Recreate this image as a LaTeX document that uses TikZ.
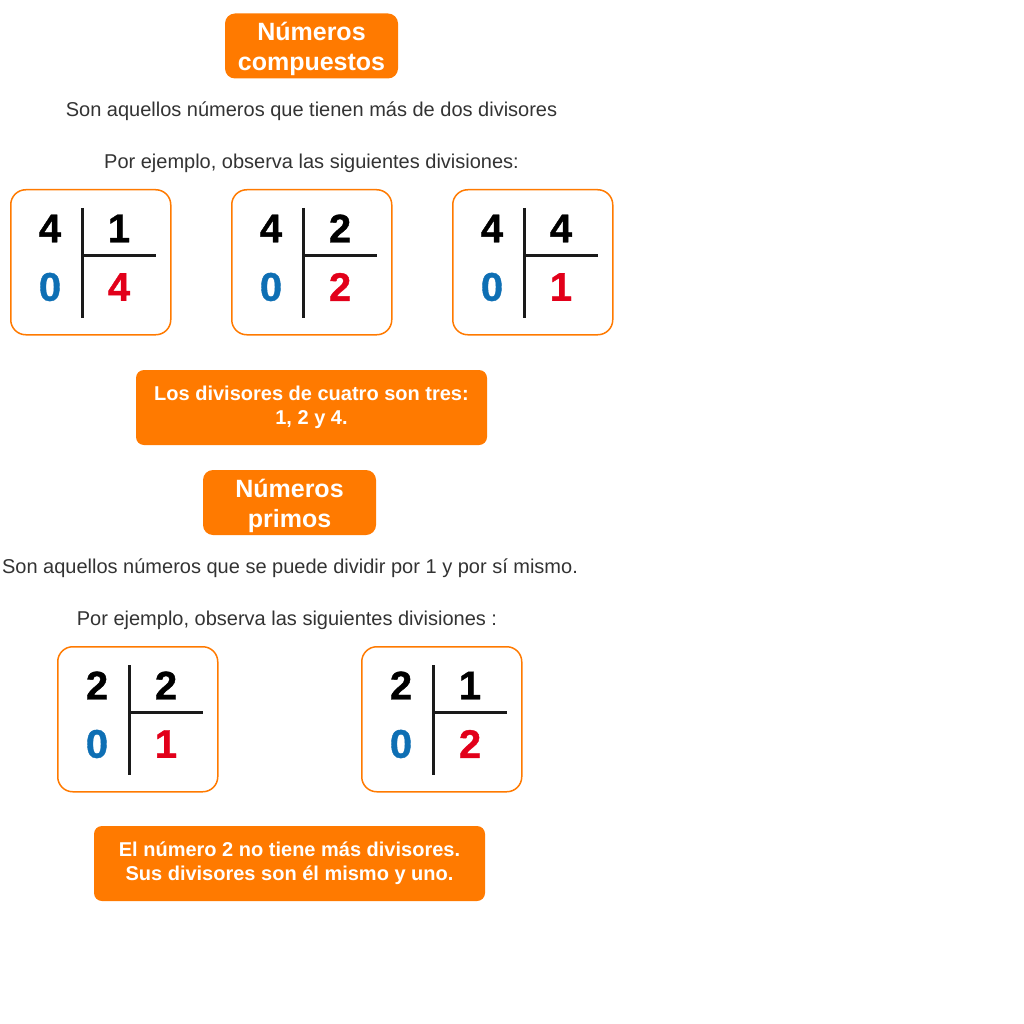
\documentclass[tikz,border=0pt]{standalone}
\usepackage{fontspec}
\setmainfont{Liberation Sans}
\newfontfamily\cifrafont[FakeBold=1]{Liberation Sans Bold}
\usetikzlibrary{
	calc
}
\definecolor{naranja}{HTML}{FF7A00}
\definecolor{gristexto}{HTML}{333333}
\definecolor{azul}{HTML}{0E6FB4}
\definecolor{rojo}{HTML}{E2001A}
\definecolor{raya}{HTML}{1A1A1A}

\begin{document}
\begin{tikzpicture}[
	x=1pt, y=-1pt,
	titulo/.style={fill=naranja, rounded corners=10pt, minimum width=173pt, minimum height=65pt, inner sep=0},
	rotulo/.style={text=white, align=center, font=\bfseries\fontsize{25}{30}\selectfont, inner sep=0},
	nota/.style={fill=naranja, rounded corners=8pt, text=white, align=center,
		font=\bfseries\fontsize{20}{24}\selectfont, minimum height=75pt, inner sep=0},
	texto/.style={text=gristexto, font=\fontsize{20}{24}\selectfont, inner sep=0, anchor=base},
	division/.style={draw=naranja, line width=1.5pt, rounded corners=15pt,
		minimum width=160pt, minimum height=145pt, inner sep=0, anchor=north west},
	cifra/.style={font=\cifrafont\fontsize{40}{40}\selectfont, inner sep=0},
	linea/.style={draw=raya, line width=3pt}
]
	\useasboundingbox[fill=white] (0,0) rectangle (1024,1024);

	% compuestos
	\node(compuestos)[titulo] at (311.5,46) {};
	\node(compuestos-texto)[rotulo] at (311.5,49) {Números\\compuestos};
	\node(defcomp)[texto] at (311.5,117) {Son aquellos números que tienen más de dos divisores};
	\node(ejcomp)[texto] at (311.5,169) {Por ejemplo, observa las siguientes divisiones:};
	\node(notacomp)[nota, minimum width=351pt] at (311.5,407.5) {Los divisores de cuatro son tres:\\1, 2 y 4.};

	% primos
	\node(primos)[titulo] at (289.5,502.5) {};
	\node(primos-texto)[rotulo] at (289.5,506) {Números\\primos};
	\node(defprim)[texto] at (290,573) {Son aquellos números que se puede dividir por 1 y por sí mismo.};
	\node(ejprim)[texto] at (287,625) {Por ejemplo, observa las siguientes divisiones :};
	\node(notaprim)[nota, minimum width=391pt] at (289.5,863.5) {El número 2 no tiene más divisores.\\Sus divisores son él mismo y uno.};

	% divisiones: dividendo, divisor, resto, cociente
	\foreach \n/\x/\y/\a/\b/\q in {d1/10/189/4/1/4, d2/231/189/4/2/2, d3/452/189/4/4/1,
		d4/57/646/2/2/1, d5/361/646/2/1/2}{
		\node(\n)[division] at (\x,\y) {};
		\node(\n-dividendo)[cifra] at ($(\n.north west)+(40,39.5)$) {\a};
		\node(\n-divisor)[cifra] at ($(\n.north west)+(109,39.5)$) {\b};
		\node(\n-resto)[cifra, text=azul] at ($(\n.north west)+(40,98)$) {0};
		\node(\n-cociente)[cifra, text=rojo] at ($(\n.north west)+(109,98)$) {\q};
		\draw[linea] ($(\n.north west)+(72,19)$) -- ($(\n.north west)+(72,129)$);
		\draw[linea] ($(\n.north west)+(72,66)$) -- ($(\n.north west)+(146,66)$);
	}
\end{tikzpicture}
\end{document}
